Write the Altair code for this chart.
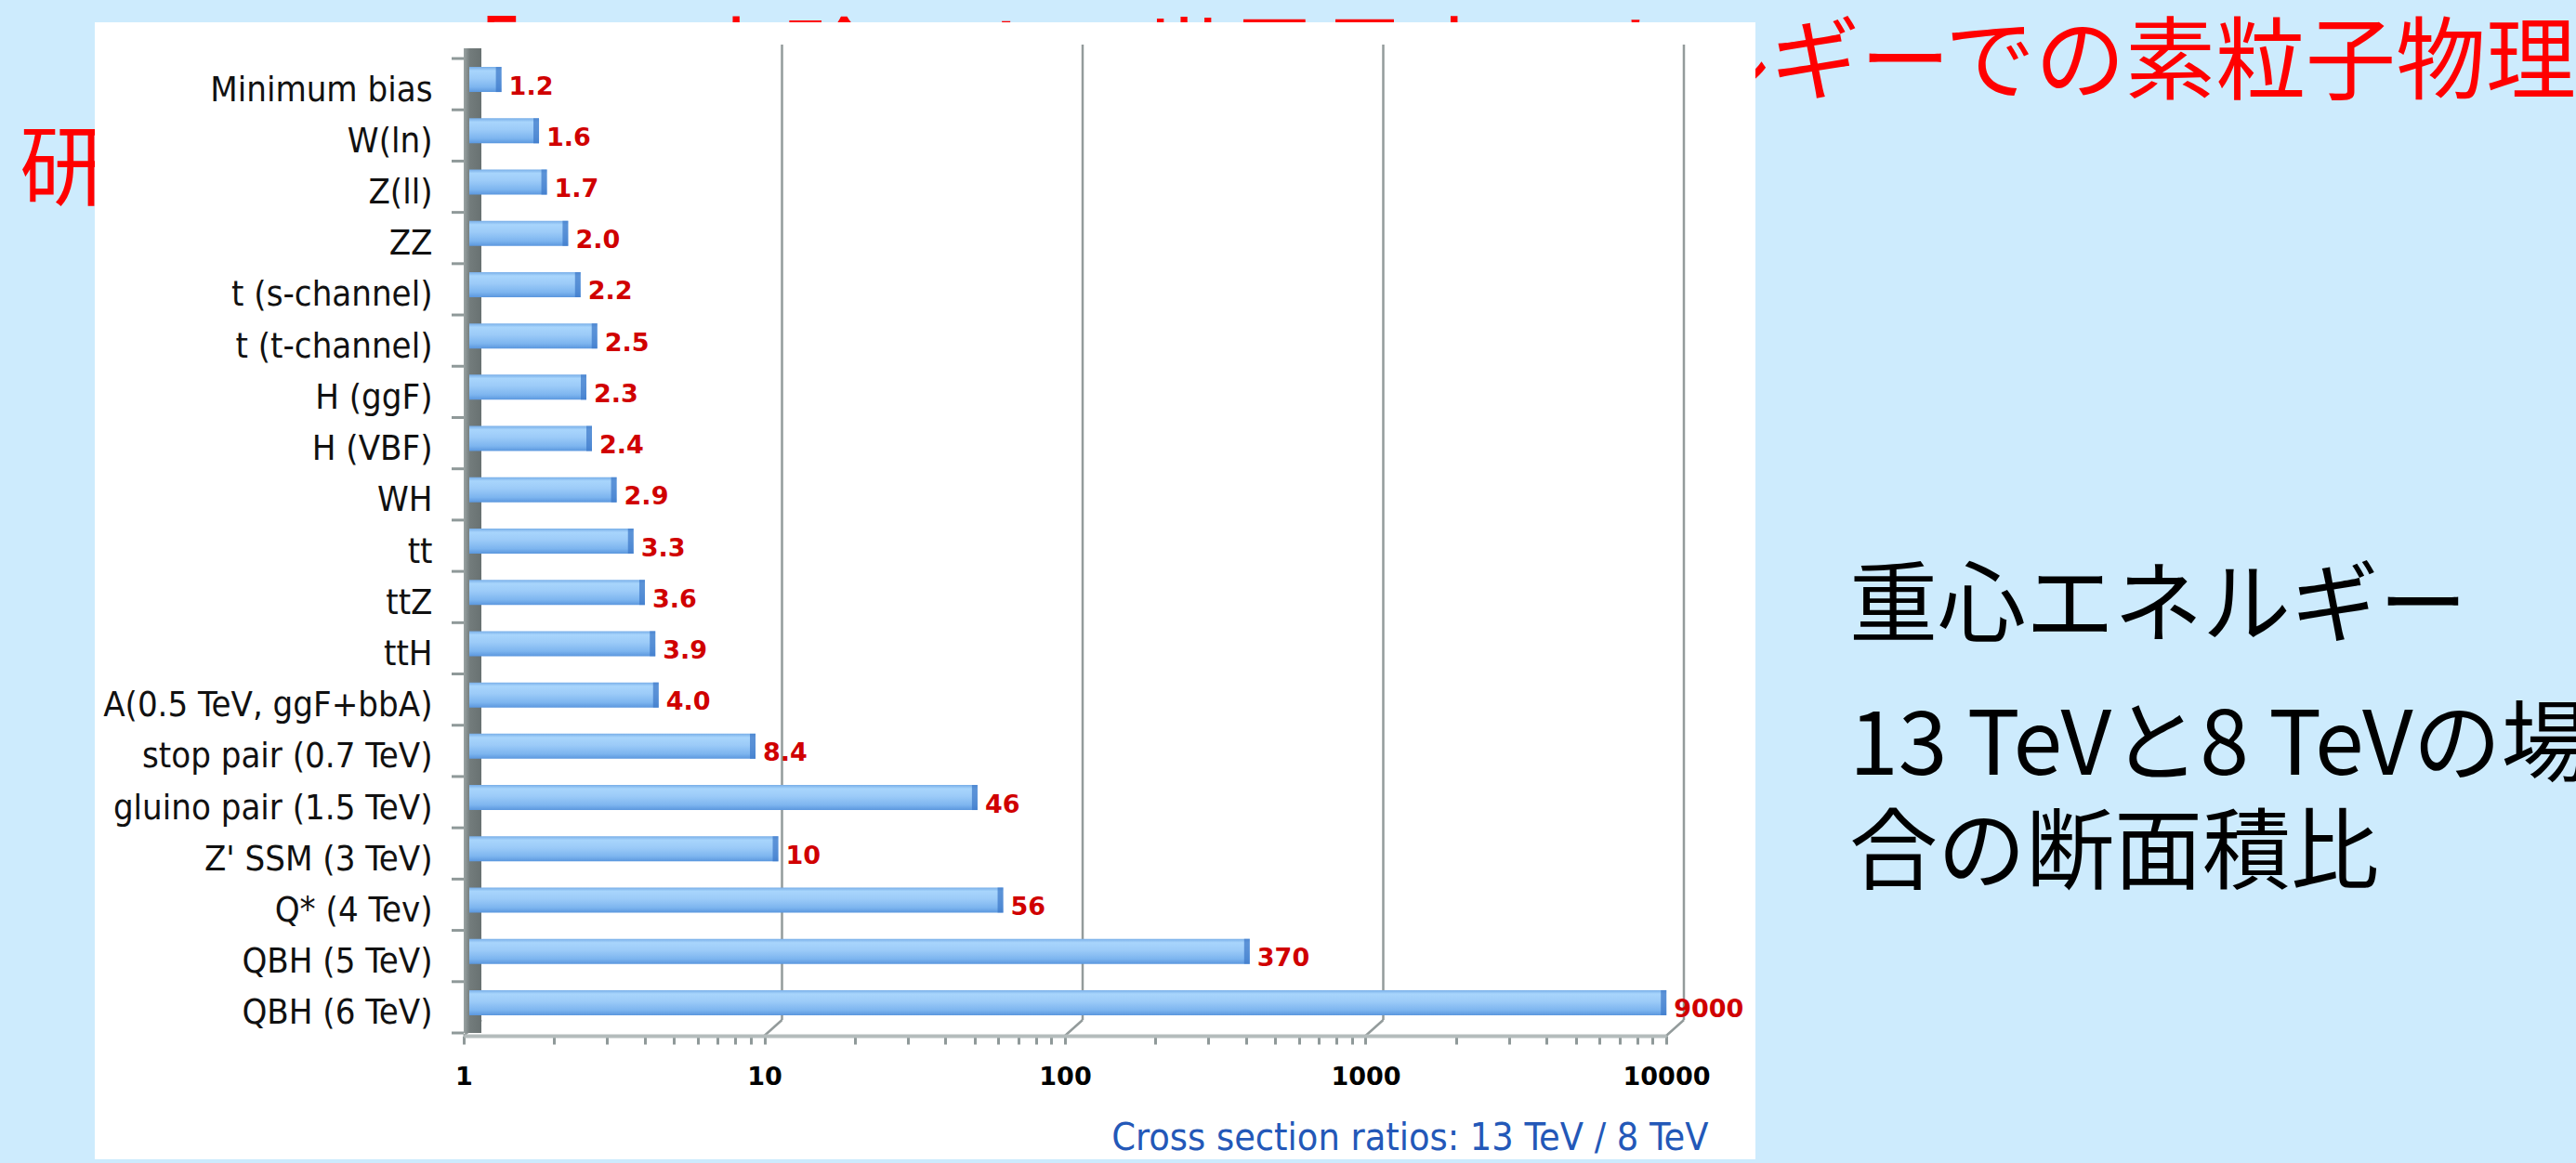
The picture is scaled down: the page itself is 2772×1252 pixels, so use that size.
import altair as alt
import pandas as pd

# Processes and their 13 TeV / 8 TeV cross-section ratios
processes = [
    "Minimum bias", "W(ln)", "Z(ll)", "ZZ", "t (s-channel)", "t (t-channel)",
    "H (ggF)", "H (VBF)", "WH", "tt", "ttZ", "ttH", "A(0.5 TeV, ggF+bbA)",
    "stop pair (0.7 TeV)", "gluino pair (1.5 TeV)", "Z' SSM (3 TeV)",
    "Q* (4 Tev)", "QBH (5 TeV)", "QBH (6 TeV)",
]
ratios = [1.2, 1.6, 1.7, 2.0, 2.2, 2.5, 2.3, 2.4, 2.9, 3.3, 3.6, 3.9, 4.0,
          8.4, 46, 10, 56, 370, 9000]

# Axis ticks: every integer multiple within each decade, labels on decades
decades = [1, 10, 100, 1000, 10000]
grid_values = [10, 100, 1000, 10000]

title_line1 = "「LHC実験による世界最高エネルギーでの素粒子物理"
title_line2 = "研究」"
side_lines = ["重心エネルギー", "13 TeVと8 TeVの場", "合の断面積比"]
axis_title = "Cross section ratios: 13 TeV / 8 TeV"

tick_values = [m * d for d in decades[:-1] for m in range(1, 10)] + [decades[-1]]

bars = pd.DataFrame({
    "process": processes,
    "ratio": ratios,
    "base": [1] * len(ratios),
    "label": [f"{v:.1f}" if v < 10 else f"{v:.0f}" for v in ratios],
})
grid = pd.DataFrame({"v": grid_values})
diag = pd.DataFrame({"v": [1] + grid_values})
one = pd.DataFrame({"k": [0]})

NARROW = "DejaVu Sans Condensed, DejaVu Sans, sans-serif"
WIDE = "DejaVu Sans, sans-serif"
CJK = "Noto Sans CJK JP"

xscale = alt.Scale(type="log", domain=[1, 10000])
yscale = alt.Scale(paddingInner=0, paddingOuter=0)

x_axis = alt.Axis(
    values=tick_values, format="d",
    labelExpr="indexof([1, 10, 100, 1000, 10000], datum.value) >= 0 ? format(datum.value, 'd') : ''",
    offset=3, domainColor="#b4bcbc", domainWidth=4,
    tickColor="#8f9999", tickWidth=3, tickSize=9,
    labelFont=WIDE, labelFontSize=27, labelFontWeight="bold", labelColor="#000000",
    labelPadding=22, labelFlush=False, labelOverlap=False, grid=False,
    title=axis_title, titleFont=NARROW, titleFontSize=41, titleFontWeight="normal",
    titleColor="#2358b8", titleAnchor="end", titleAlign="right",
    titleX=1339, titleY=110, titleBaseline="middle", zindex=1,
)
y_axis = alt.Axis(
    ticks=False, tickSize=0, domain=False, labelPadding=34,
    labelFont=NARROW, labelFontSize=38, labelColor="#111111",
    labelOffset=7, labelLimit=1000, title=None, zindex=1,
)


def xenc(field):
    return alt.X(field, scale=xscale, axis=x_axis)


def yenc(**kw):
    return alt.Y("process:N", sort=processes, scale=yscale, axis=y_axis, **kw)


# Slide title (partly covered by the chart panel)
red1 = alt.Chart(one).mark_text(
    align="right", baseline="middle", font=CJK, fontSize=97, color="#ff0000"
).encode(x=alt.value(2273), y=alt.value(7), text=alt.value(title_line1))
red2 = alt.Chart(one).mark_text(
    align="left", baseline="middle", font=CJK, fontSize=95, color="#ff0000"
).encode(x=alt.value(-478), y=alt.value(122), text=alt.value(title_line2))

panel = alt.Chart(one).mark_rect(color="white").encode(
    x=alt.value(-397), x2=alt.value(1390), y=alt.value(-39), y2=alt.value(1185)
)

side = [
    alt.Chart(one).mark_text(
        align="left", baseline="middle", font=CJK, fontSize=95, color="#000000"
    ).encode(x=alt.value(1491), y=alt.value(yy), text=alt.value(t))
    for t, yy in zip(side_lines, [592, 742, 858])
]

# Back-wall gridlines and their floor joints
gridlines = alt.Chart(grid).mark_rule(
    color="#939b9b", strokeWidth=2.5, xOffset=19
).encode(x=xenc("v:Q"), y=alt.value(-15), y2=alt.value(1035))
joints = alt.Chart(diag).mark_rule(
    color="#939b9b", strokeWidth=2.5, x2Offset=19
).encode(x=xenc("v:Q"), x2="v:Q", y=alt.value(1052), y2=alt.value(1035))

wall = alt.Chart(one).mark_rect(
    color=alt.Gradient(
        gradient="linear", x1=0, x2=1, y1=0, y2=0,
        stops=[alt.GradientStop(color="#9aa3a3", offset=0),
               alt.GradientStop(color="#737c7c", offset=0.35),
               alt.GradientStop(color="#687171", offset=1)],
    )
).encode(x=alt.value(0), x2=alt.value(19), y=alt.value(-11), y2=alt.value(1049))

band_ticks = alt.Chart(bars).mark_rule(color="#8f9999", strokeWidth=3).encode(
    y=yenc(bandPosition=0), x=alt.value(-13), x2=alt.value(0),
)
bottom_tick = alt.Chart(one).mark_rule(color="#8f9999", strokeWidth=3).encode(
    x=alt.value(-13), x2=alt.value(0), y=alt.value(1049)
)

bar_fill = alt.Gradient(
    gradient="linear", x1=0, x2=0, y1=0, y2=1,
    stops=[alt.GradientStop(color="#78aee8", offset=0),
           alt.GradientStop(color="#a8d5fc", offset=0.15),
           alt.GradientStop(color="#9ccbf8", offset=0.45),
           alt.GradientStop(color="#7db5ef", offset=0.8),
           alt.GradientStop(color="#5b97de", offset=1)],
)

bar_layer = alt.Chart(bars).mark_bar(
    color=bar_fill, height=27, yOffset=-5, xOffset=15, x2Offset=6
).encode(x=xenc("ratio:Q"), x2="base:Q", y=yenc())
caps = alt.Chart(bars).mark_tick(
    color="#3a76c8", thickness=6, size=27, yOffset=-5, xOffset=12, orient="vertical"
).encode(x=xenc("ratio:Q"), y=yenc())
values = alt.Chart(bars).mark_text(
    align="left", baseline="middle", dx=23, dy=3,
    font=WIDE, fontSize=27, fontWeight="bold", color="#d00000",
).encode(x=xenc("ratio:Q"), y=yenc(), text="label:N")

chart = alt.layer(
    red1, red2, panel, *side, gridlines, joints, wall, band_ticks, bottom_tick,
    bar_layer, caps, values,
).properties(
    width=1294, height=1049,
    padding={"left": 499, "top": 63, "right": 979, "bottom": 140},
    autosize=alt.AutoSizeParams(type="none"),
    background="#cdebfd",
).configure_view(stroke=None)

chart.save("out.html", embed_options={"renderer": "svg", "actions": False})
